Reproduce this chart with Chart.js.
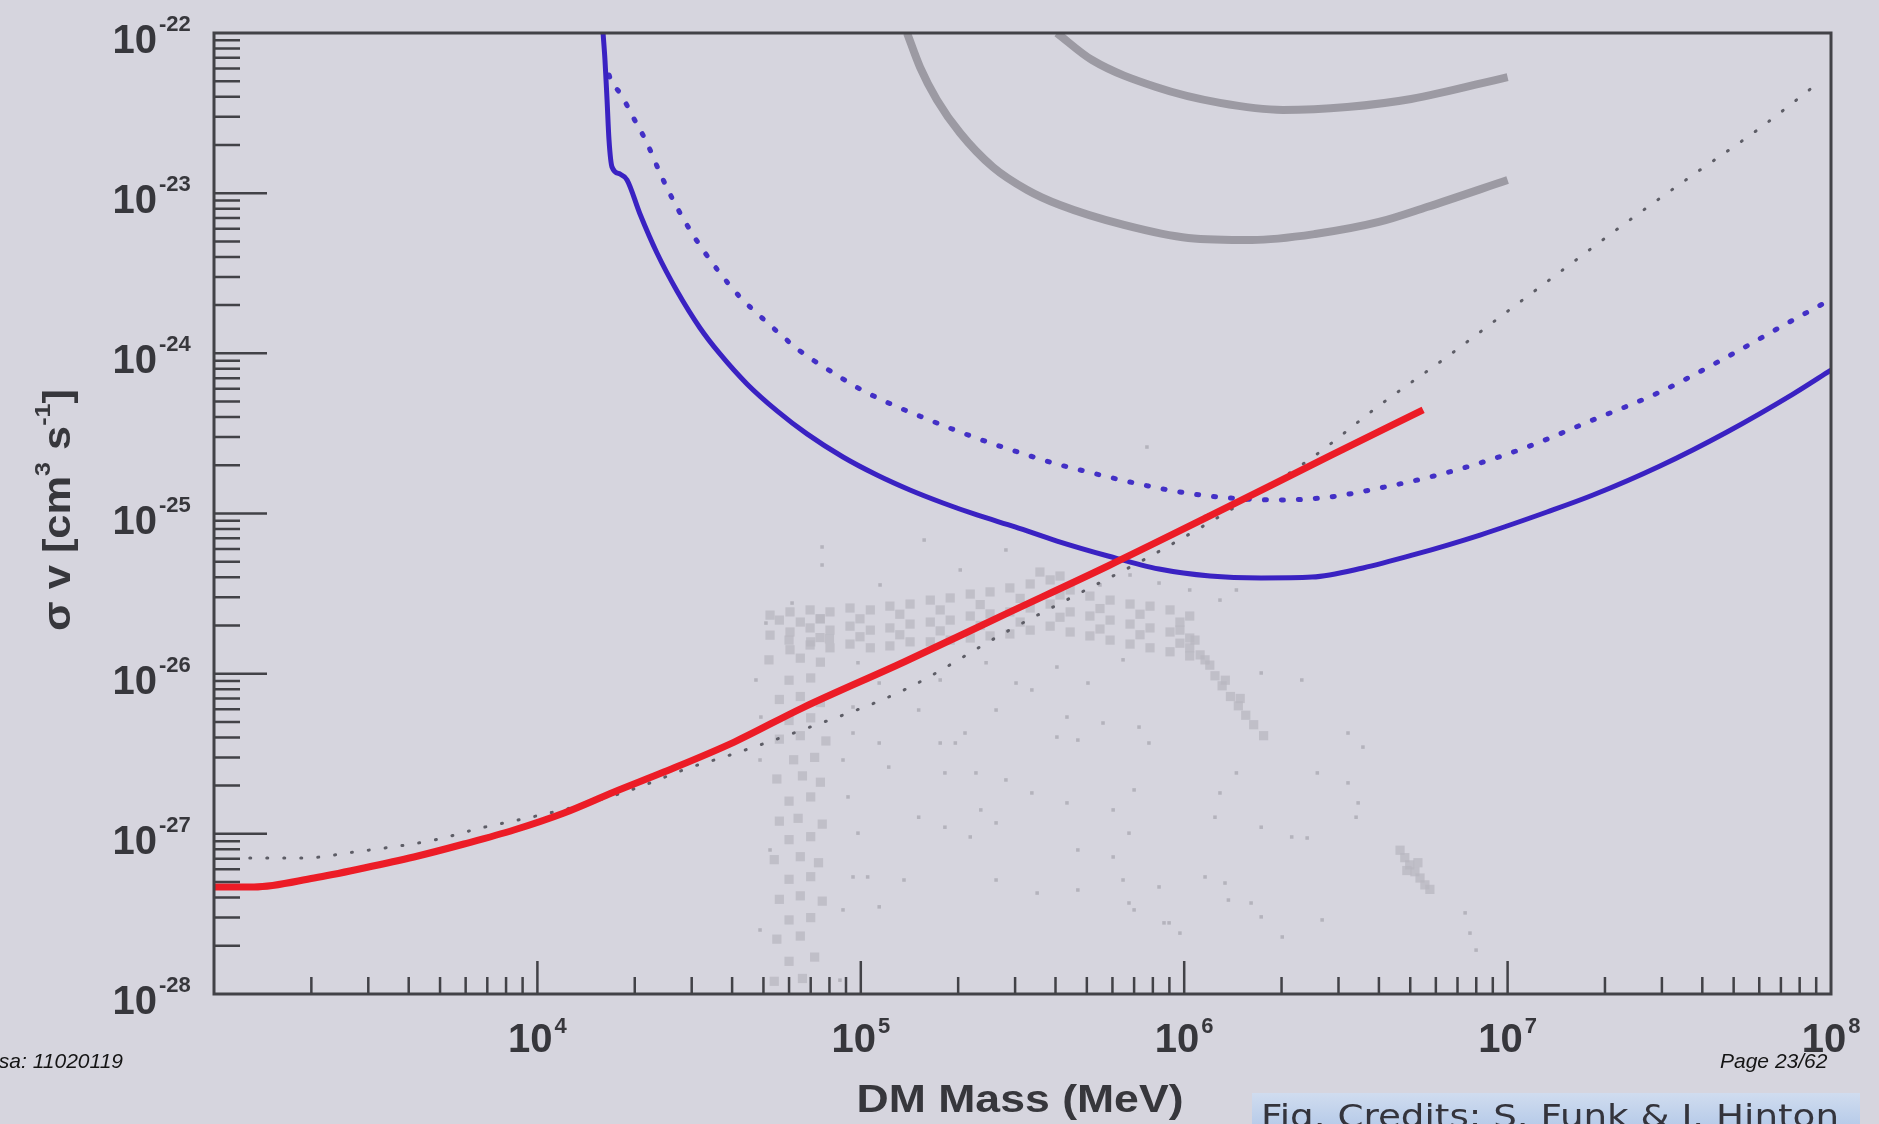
<!DOCTYPE html>
<html>
<head>
<meta charset="utf-8">
<script src="https://cdn.jsdelivr.net/npm/chart.js@4.4.1/dist/chart.umd.min.js"></script>
<style>
	html, body { margin: 0; padding: 0; background: #d6d5de; overflow: hidden; }
	canvas { display: block; }
</style>
</head>
<body>
<canvas id="chart" width="1879" height="1124"></canvas>
<script>
// axis ranges and labelled decades
const xMinPower = 3;
const xMaxPower = 8;
const yMinPower = -28;
const yMaxPower = -22;
const xLabelPowers = [4, 5, 6, 7, 8];
const yLabelPowers = [-28, -27, -26, -25, -24, -23, -22];

// red curve
const redMass = [1e3, 1.33e3, 2.04e3, 2.91e3, 4.15e3, 5.93e3, 8.46e3, 1.209e4, 1.726e4, 2.46e4, 4.06e4, 6.58e4, 1.36e5, 2.81e5, 5.81e5, 1.2e6, 2.82e6, 5.48e6];
const redSv = [4.66e-28, 4.66e-28, 5.3e-28, 6.12e-28, 7.17e-28, 8.64e-28, 1.057e-27, 1.35e-27, 1.825e-27, 2.43e-27, 3.74e-27, 6.1e-27, 1.183e-26, 2.36e-26, 4.7e-26, 9.65e-26, 2.29e-25, 4.43e-25];

// blue solid limit
const blueMass = [1.596e4, 1.618e4, 1.642e4, 1.665e4, 1.701e4, 1.801e4, 1.893e4, 2.076e4, 2.343e4, 2.702e4, 3.183e4, 3.669e4, 4.447e4, 5.507e4, 6.817e4, 8.81e4, 1.122e5, 1.419e5, 1.796e5, 2.287e5, 2.999e5, 4.043e5, 5.812e5, 8.359e5, 1.202e6, 1.728e6, 2.485e6, 3.572e6, 5.099e6, 8.217e6, 1.324e7, 1.837e7, 2.96e7, 4.77e7, 7.63e7, 1e8];
const blueSv = [1e-22, 6.78e-23, 3.82e-23, 2.15e-23, 1.457e-23, 1.317e-23, 1.208e-23, 7.41e-24, 4.23e-24, 2.45e-24, 1.44e-24, 9.91e-25, 6.44e-25, 4.37e-25, 3.14e-25, 2.253e-25, 1.739e-25, 1.402e-25, 1.163e-25, 9.79e-26, 8.24e-26, 6.73e-26, 5.43e-26, 4.5e-26, 4.07e-26, 3.96e-26, 4.01e-26, 4.57e-26, 5.51e-26, 7.34e-26, 1.022e-25, 1.304e-25, 1.98e-25, 3.23e-25, 5.57e-25, 7.87e-25];

// blue dotted limit
const blueDotMass = [1.665e4, 1.701e4, 1.801e4, 1.975e4, 2.182e4, 2.394e4, 2.627e4, 2.964e4, 3.252e4, 3.669e4, 4.231e4, 4.879e4, 5.626e4, 6.486e4, 7.862e4, 9.94e4, 1.258e5, 1.602e5, 2.026e5, 2.564e5, 3.266e5, 4.13e5, 4.762e5, 6.8e5, 9.7e5, 1.386e6, 1.978e6, 2.823e6, 4.031e6, 5.754e6, 8.217e6, 1.148e7, 1.837e7, 2.96e7, 4.77e7, 7.63e7, 9.93e7];
const blueDotSv = [5.47e-23, 4.87e-23, 4.22e-23, 2.99e-23, 2.056e-23, 1.336e-23, 9.06e-24, 5.89e-24, 4.42e-24, 3.17e-24, 2.247e-24, 1.71e-24, 1.32e-24, 1.034e-24, 7.99e-25, 5.99e-25, 4.76e-25, 3.89e-25, 3.23e-25, 2.72e-25, 2.32e-25, 2.01e-25, 1.87e-25, 1.573e-25, 1.362e-25, 1.25e-25, 1.214e-25, 1.268e-25, 1.443e-25, 1.69e-25, 2.067e-25, 2.601e-25, 3.84e-25, 5.74e-25, 9.49e-25, 1.614e-24, 2.153e-24];

// thin grey dotted line
const thinMass = [1.29e3, 1.9e3, 2.71e3, 4.79e3, 6.69e3, 9.55e3, 1.364e4, 1.947e4, 2.99e4, 3.78e4, 6.58e4, 1.36e5, 2.81e5, 4.76e5, 7.67e5, 1.56e6, 2.5e6, 4.03e6, 6.49e6, 9.47e6, 1.452e7, 2.34e7, 3.74e7, 6.03e7, 9.38e7];
const thinSv = [7.07e-28, 7.07e-28, 7.7e-28, 9.15e-28, 1.088e-27, 1.27e-27, 1.51e-27, 1.88e-27, 2.61e-27, 3.02e-27, 4.45e-27, 7.91e-27, 1.82e-26, 3.19e-26, 5.27e-26, 1.214e-25, 2.25e-25, 4.76e-25, 9.49e-25, 1.686e-24, 3.22e-24, 6.61e-24, 1.299e-23, 2.55e-23, 5.09e-23];

// grey thick curves
const greyUpperMass = [4.04e5, 5.19e5, 8.18e5, 1.29e6, 2.02e6, 3.19e6, 5.03e6, 1e7];
const greyUpperSv = [1e-22, 6.78e-23, 4.6e-23, 3.66e-23, 3.31e-23, 3.45e-23, 3.87e-23, 5.31e-23];
const greyLowerMass = [1.39e5, 1.524e5, 1.72e5, 2.03e5, 2.56e5, 3.27e5, 4.13e5, 6.51e5, 1.03e6, 1.62e6, 2.54e6, 4e6, 5.63e6, 1e7];
const greyLowerSv = [1e-22, 6.13e-23, 3.82e-23, 2.37e-23, 1.457e-23, 1.047e-23, 8.43e-24, 6.33e-24, 5.25e-24, 5.1e-24, 5.56e-24, 6.61e-24, 8.19e-24, 1.208e-23];

// scan points, dense part [mass, sv]
const cloudCore = [
	[5.6e4, 2.16e-26], [6.5e4, 2.1e-26], [7.5e4, 2.2e-26],
	[6.0e4, 1.62e-26], [7.0e4, 1.58e-26], [8.0e4, 1.65e-26],
	[5.2e4, 1.22e-26], [6.5e4, 1.25e-26], [7.5e4, 1.18e-26],
	[6.0e4, 9.1e-27], [7.0e4, 9.4e-27],
	[5.6e4, 6.9e-27], [6.5e4, 7.2e-27], [7.5e4, 6.6e-27],
	[6.0e4, 5.1e-27], [7.0e4, 5.3e-27],
	[5.6e4, 3.9e-27], [6.5e4, 4.1e-27], [7.8e4, 3.8e-27],
	[6.2e4, 2.9e-27], [7.2e4, 3.0e-27],
	[5.5e4, 2.2e-27], [6.6e4, 2.3e-27], [7.5e4, 2.1e-27],
	[6.0e4, 1.6e-27], [7.0e4, 1.7e-27],
	[5.6e4, 1.2e-27], [6.4e4, 1.25e-27], [7.6e4, 1.15e-27],
	[6.0e4, 9.2e-28], [7.0e4, 9.6e-28],
	[5.4e4, 6.9e-28], [6.5e4, 7.2e-28], [7.4e4, 6.6e-28],
	[6.0e4, 5.2e-28], [7.0e4, 5.4e-28],
	[5.6e4, 3.9e-28], [6.5e4, 4.1e-28], [7.6e4, 3.8e-28],
	[6.0e4, 2.9e-28], [7.0e4, 3.0e-28],
	[5.5e4, 2.2e-28], [6.5e4, 2.3e-28],
	[6.0e4, 1.6e-28], [7.2e4, 1.7e-28],
	[5.4e4, 1.2e-28], [6.6e4, 1.25e-28],
	[5.24e4, 2.32e-26], [5.24e4, 1.74e-26],
	[6.04e4, 2.43e-26], [6.04e4, 1.82e-26], [6.04e4, 1.41e-26],
	[6.97e4, 2.5e-26], [6.97e4, 1.93e-26], [6.97e4, 1.51e-26],
	[8.03e4, 2.43e-26], [8.03e4, 1.87e-26], [8.03e4, 1.45e-26],
	[9.26e4, 2.57e-26], [9.26e4, 1.98e-26], [9.26e4, 1.53e-26],
	[1.07e5, 2.5e-26], [1.07e5, 1.87e-26], [1.07e5, 1.45e-26],
	[1.23e5, 2.64e-26], [1.23e5, 1.93e-26], [1.23e5, 1.49e-26],
	[1.42e5, 2.72e-26], [1.42e5, 2.04e-26], [1.42e5, 1.58e-26],
	[1.64e5, 2.88e-26], [1.64e5, 2.1e-26], [1.64e5, 1.58e-26],
	[1.89e5, 2.97e-26], [1.89e5, 2.16e-26], [1.89e5, 1.62e-26],
	[2.18e5, 3.14e-26], [2.18e5, 2.29e-26], [2.18e5, 1.67e-26],
	[2.51e5, 3.24e-26], [2.51e5, 2.36e-26], [2.51e5, 1.72e-26],
	[2.89e5, 3.43e-26], [2.89e5, 2.43e-26], [2.89e5, 1.77e-26],
	[3.34e5, 3.63e-26], [3.34e5, 2.57e-26], [3.34e5, 1.87e-26],
	[3.85e5, 3.85e-26], [3.85e5, 2.72e-26], [3.85e5, 1.98e-26],
	[4.44e5, 3.33e-26], [4.44e5, 2.43e-26], [4.44e5, 1.82e-26],
	[5.11e5, 3.05e-26], [5.11e5, 2.29e-26], [5.11e5, 1.72e-26],
	[5.9e5, 2.88e-26], [5.9e5, 2.16e-26], [5.9e5, 1.62e-26],
	[6.8e5, 2.72e-26], [6.8e5, 2.04e-26], [6.8e5, 1.53e-26],
	[7.84e5, 2.64e-26], [7.84e5, 1.93e-26], [7.84e5, 1.45e-26],
	[9.04e5, 2.5e-26], [9.04e5, 1.82e-26], [9.04e5, 1.37e-26],
	[1.04e6, 2.29e-26], [1.04e6, 1.67e-26], [1.04e6, 1.29e-26],
	[7.48e4, 2.2e-26], [7.48e4, 1.68e-26], [9.94e4, 2.2e-26], [9.94e4, 1.7e-26],
	[1.32e5, 2.35e-26], [1.32e5, 1.75e-26], [1.76e5, 2.5e-26], [1.76e5, 1.85e-26],
	[2.34e5, 2.7e-26], [2.34e5, 2.0e-26], [3.11e5, 2.95e-26], [3.11e5, 2.1e-26],
	[4.13e5, 3.1e-26], [4.13e5, 2.25e-26], [5.49e5, 2.55e-26], [5.49e5, 1.9e-26],
	[7.3e5, 2.35e-26], [7.3e5, 1.75e-26], [9.7e5, 2.1e-26], [9.7e5, 1.55e-26],
	[3.58e5, 4.31e-26], [4.13e5, 4.07e-26],
	[9.7e5, 1.87e-26], [1.08e6, 1.62e-26], [1.12e6, 1.31e-26], [1.2e6, 1.13e-26],
	[1.245e6, 9.7e-27], [1.31e6, 8.4e-27], [1.39e6, 7.2e-27], [1.47e6, 6.3e-27],
	[1.55e6, 5.5e-27], [1.64e6, 4.8e-27], [1.76e6, 4.1e-27], [1.04e6, 1.45e-26],
	[1.16e6, 1.22e-26], [1.34e6, 9.1e-27], [1.49e6, 7.0e-27],
	[4.65e6, 7.9e-28], [4.81e6, 7.1e-28], [4.98e6, 6.4e-28], [5.17e6, 5.8e-28],
	[5.36e6, 5.3e-28], [5.55e6, 4.8e-28], [5.75e6, 4.5e-28], [5.28e6, 6.6e-28], [4.88e6, 5.9e-28],
];

// scan points, scattered part [mass, sv]
const cloudSparse = [
	[7.59e4, 6.18e-26], [7.59e4, 4.77e-26], [1.57e5, 6.83e-26], [2.81e5, 5.92e-26],
	[8.36e5, 3.68e-26], [1.04e6, 3.33e-26], [1.29e6, 2.88e-26], [1.45e6, 3.33e-26],
	[6.13e4, 2.76e-26], [5.09e4, 2.07e-26], [4.74e4, 9.13e-27], [4.91e4, 5.36e-27],
	[9.8e4, 1.17e-26], [1.14e5, 8.74e-27], [1.76e5, 9.13e-27], [2.44e5, 1.17e-26],
	[3.02e5, 8.74e-27], [4.04e5, 1.1e-26], [5.04e5, 8.74e-27], [6.47e5, 1.22e-26],
	[9.46e4, 6.19e-27], [9.46e4, 4.26e-27], [8.81e4, 2.89e-27], [9.13e4, 1.7e-27],
	[9.8e4, 1.01e-27], [9.46e4, 5.38e-28], [8.81e4, 3.35e-28], [1.73e6, 1.01e-26],
	[2.31e6, 9.13e-27], [3.21e6, 4.26e-27], [3.57e6, 3.48e-27], [2.58e6, 2.4e-27],
	[3.21e6, 2.08e-27], [3.45e6, 1.56e-27], [3.4e6, 1.27e-27], [1.73e6, 1.1e-27],
	[2.15e6, 9.56e-28], [2.4e6, 9.42e-28], [1.45e6, 2.4e-27], [1.29e6, 1.8e-27],
	[1.245e6, 1.27e-27], [1.16e6, 5.38e-28], [1.337e6, 4.93e-28], [1.37e6, 3.86e-28],
	[1.61e6, 3.7e-28], [1.73e6, 3.03e-28], [2.67e6, 2.9e-28], [2.01e6, 2.27e-28],
	[7.39e6, 3.21e-28], [7.65e6, 2.4e-28], [7.99e6, 1.88e-28], [7.0e5, 1.88e-27],
	[6.03e5, 1.41e-27], [6.75e5, 1.01e-27], [6.03e5, 7.17e-28], [6.47e5, 5.15e-28],
	[6.75e5, 3.7e-28], [8.36e5, 4.66e-28], [8.98e5, 2.78e-28], [9.7e5, 2.4e-28],
	[4.34e5, 1.56e-27], [4.69e5, 7.93e-28], [3.38e5, 1.8e-27], [2.35e5, 1.41e-27],
	[2.62e5, 1.17e-27], [2.18e5, 9.56e-28], [1.82e5, 1.1e-27], [1.51e5, 1.27e-27],
	[1.82e5, 2.4e-27], [2.27e5, 2.4e-27], [2.81e5, 2.17e-27], [1.22e5, 2.61e-27],
	[1.14e5, 3.69e-27], [1.76e5, 3.69e-27], [1.96e5, 3.69e-27], [1.51e5, 5.93e-27],
	[2.1e5, 4.26e-27], [2.62e5, 5.93e-27], [3.38e5, 7.91e-27], [4.34e5, 5.36e-27],
	[5.61e5, 4.92e-27], [7.25e5, 4.64e-27], [7.78e5, 3.69e-27], [4.69e5, 3.85e-27],
	[4.04e5, 4.02e-27], [1.05e5, 5.38e-28], [1.36e5, 5.15e-28], [2.62e5, 5.15e-28],
	[1.14e5, 3.5e-28], [3.51e5, 4.27e-28], [4.69e5, 4.46e-28], [7.0e5, 3.35e-28],
	[8.66e5, 2.78e-28], [1.147e5, 3.58e-26], [2.03e5, 4.44e-26], [5.49e5, 3.58e-26],
	[6.8e5, 4.13e-26], [7.67e5, 2.6e-25], [4.88e4, 2.89e-27], [5.24e4, 7.93e-28],
	[4.88e4, 2.51e-28], [8.62e4, 1.22e-28],
];

const bgColor = "#d6d5de";
const axisColor = "#424247";
const labelColor = "#37373c";
const fontFamily = "'Liberation Sans', Arial, Helvetica, sans-serif";

function toPoints(xs, ys) {
	return xs.map((x, i) => ({ x: x, y: ys[i] }));
}

function pairsToPoints(pairs) {
	return pairs.map((p) => ({ x: p[0], y: p[1] }));
}

// draws text pieces [text, font, rise] centred on x, stretched to a width
function drawRuns(ctx, runs, x, y, targetWidth) {
	let total = 0;
	const widths = runs.map((r) => {
		ctx.font = r[1];
		const w = ctx.measureText(r[0]).width;
		total += w;
		return w;
	});
	const scale = targetWidth ? targetWidth / total : 1;
	ctx.save();
	ctx.translate(x, y);
	ctx.scale(scale, 1);
	ctx.textAlign = "left";
	ctx.textBaseline = "alphabetic";
	let cx = -total / 2;
	runs.forEach((r, i) => {
		ctx.font = r[1];
		ctx.fillText(r[0], cx, -r[2]);
		cx += widths[i];
	});
	ctx.restore();
}

const framePlugin = {
	id: "frame",
	beforeDraw(chart) {
		const ctx = chart.ctx;
		ctx.save();
		ctx.fillStyle = bgColor;
		ctx.fillRect(0, 0, chart.width, chart.height);
		ctx.restore();
	},
	afterDatasetsDraw(chart) {
		const ctx = chart.ctx;
		const area = chart.chartArea;
		const xs = chart.scales.x;
		const ys = chart.scales.y;
		ctx.save();
		ctx.strokeStyle = axisColor;
		ctx.lineWidth = 2.5;
		ctx.beginPath();
		for (let p = xMinPower; p < xMaxPower; p++) {
			for (let k = 1; k < 10; k++) {
				if (p === xMinPower && k === 1) continue;
				const px = xs.getPixelForValue(k * Math.pow(10, p));
				const len = k === 1 ? 33 : 17;
				ctx.moveTo(px, area.bottom);
				ctx.lineTo(px, area.bottom - len);
			}
		}
		for (let p = yMinPower; p < yMaxPower; p++) {
			for (let k = 1; k < 10; k++) {
				if (p === yMinPower && k === 1) continue;
				const py = ys.getPixelForValue(k * Math.pow(10, p));
				const len = k === 1 ? 53 : 26;
				ctx.moveTo(area.left, py);
				ctx.lineTo(area.left + len, py);
			}
		}
		ctx.stroke();
		ctx.lineWidth = 3;
		ctx.strokeRect(area.left, area.top, area.right - area.left, area.bottom - area.top);
		ctx.restore();
	},
	afterDraw(chart) {
		const ctx = chart.ctx;
		const xs = chart.scales.x;
		const ys = chart.scales.y;
		const big = "bold 40px " + fontFamily;
		const small = "bold 22px " + fontFamily;
		ctx.save();
		ctx.fillStyle = labelColor;
		ctx.textBaseline = "alphabetic";

		yLabelPowers.forEach((p) => {
			const py = ys.getPixelForValue(Math.pow(10, p));
			ctx.font = big;
			ctx.textAlign = "right";
			ctx.fillText("10", 157, py + 20);
			ctx.font = small;
			ctx.textAlign = "left";
			ctx.fillText(String(p), 159, py - 2);
		});

		xLabelPowers.forEach((p) => {
			const px = xs.getPixelForValue(Math.pow(10, p));
			ctx.font = big;
			const w1 = ctx.measureText("10").width;
			ctx.font = small;
			const w2 = ctx.measureText(String(p)).width;
			const start = px - (w1 + 2 + w2) / 2;
			ctx.textAlign = "left";
			ctx.font = big;
			ctx.fillText("10", start, 1052);
			ctx.font = small;
			ctx.fillText(String(p), start + w1 + 2, 1033);
		});

		// axis titles
		const titleFont = "bold 38px " + fontFamily;
		const supFont = "bold 22px " + fontFamily;
		drawRuns(ctx, [["DM Mass (MeV)", titleFont, 0]], 1020, 1112, 327);
		ctx.save();
		ctx.translate(70, 510);
		ctx.rotate(-Math.PI / 2);
		drawRuns(ctx, [
			["\u03c3 v [cm", titleFont, 0],
			["3", supFont, 20],
			[" s", titleFont, 0],
			["-1", supFont, 20],
			["]", titleFont, 0],
		], 0, 0, 242);
		ctx.restore();

		// slide footer
		ctx.fillStyle = "#141414";
		ctx.font = "italic 21px " + fontFamily;
		ctx.textAlign = "right";
		ctx.fillText("sa: 11020119", 123, 1068);
		ctx.textAlign = "left";
		ctx.fillText("Page 23/62", 1720, 1068);

		const grad = ctx.createLinearGradient(0, 1093, 0, 1124);
		grad.addColorStop(0, "#d0dcef");
		grad.addColorStop(1, "#b8cce9");
		ctx.fillStyle = grad;
		ctx.fillRect(1252, 1093, 608, 31);
		ctx.fillStyle = "#34343c";
		drawRuns(ctx, [["Fig. Credits: S. Funk & J. Hinton", "32px 'DejaVu Sans', sans-serif", 0]], 1550, 1127, 578);
		ctx.restore();
	},
};

const lineBase = {
	showLine: true,
	pointRadius: 0,
	fill: false,
	cubicInterpolationMode: "monotone",
};

new Chart(document.getElementById("chart"), {
	type: "scatter",
	data: {
		datasets: [
			Object.assign({}, lineBase, {
				data: toPoints(redMass, redSv),
				borderColor: "#ec1c26",
				borderWidth: 7,
			}),
			Object.assign({}, lineBase, {
				data: toPoints(blueMass, blueSv),
				borderColor: "#3a22c2",
				borderWidth: 5,
			}),
			Object.assign({}, lineBase, {
				data: toPoints(blueDotMass, blueDotSv),
				borderColor: "#4330c6",
				borderWidth: 5,
				borderDash: [2, 15],
				borderCapStyle: "round",
			}),
			Object.assign({}, lineBase, {
				data: toPoints(thinMass, thinSv),
				borderColor: "#5d5d66",
				borderWidth: 3,
				borderDash: [1, 16],
				borderCapStyle: "round",
			}),
			Object.assign({}, lineBase, {
				data: toPoints(greyUpperMass, greyUpperSv),
				borderColor: "#9c9aa3",
				borderWidth: 8,
			}),
			Object.assign({}, lineBase, {
				data: toPoints(greyLowerMass, greyLowerSv),
				borderColor: "#9c9aa3",
				borderWidth: 8,
			}),
			{
				data: pairsToPoints(cloudCore),
				pointStyle: "rect",
				pointRadius: 6.5,
				borderWidth: 0,
				backgroundColor: "rgba(184,183,192,0.75)",
			},
			{
				data: pairsToPoints(cloudSparse),
				pointStyle: "rect",
				pointRadius: 2.5,
				borderWidth: 0,
				backgroundColor: "#b4b3bc",
			},
		],
	},
	options: {
		responsive: false,
		animation: false,
		events: [],
		layout: { padding: { left: 214, right: 48, top: 33, bottom: 130 } },
		plugins: {
			legend: { display: false },
			tooltip: { enabled: false },
		},
		scales: {
			x: { type: "logarithmic", min: Math.pow(10, xMinPower), max: Math.pow(10, xMaxPower), display: false },
			y: { type: "logarithmic", min: Math.pow(10, yMinPower), max: Math.pow(10, yMaxPower), display: false },
		},
	},
	plugins: [framePlugin],
});
</script>
</body>
</html>
